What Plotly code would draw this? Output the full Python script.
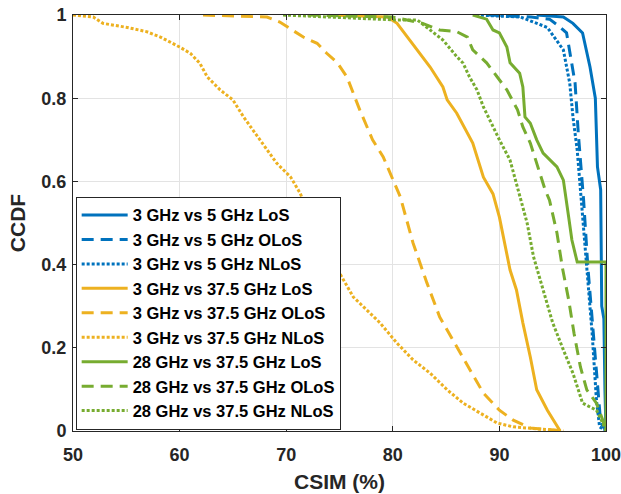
import plotly.graph_objects as go

BLUE = "#0072BD"
ORANGE = "#EDB120"
GREEN = "#77AC30"

# 3 GHz vs 5 GHz
b_los_x = [93.5, 96.0, 96.9, 97.8, 98.5, 99.0, 99.2, 99.4, 99.5, 99.6, 99.8, 99.9, 100.0]
b_los_y = [1.0, 0.995, 0.98, 0.957, 0.875, 0.8, 0.635, 0.605, 0.58, 0.30, 0.27, 0.10, 0.0]
b_olos_x = [89.0, 93.0, 94.7, 95.5, 96.3, 97.1, 97.4, 97.9, 98.3, 98.8, 99.2, 99.5, 100.0]
b_olos_y = [1.0, 0.995, 0.99, 0.975, 0.957, 0.836, 0.716, 0.555, 0.394, 0.235, 0.115, 0.02, 0.0]
b_nlos_x = [87.8, 92.0, 94.5, 96.0, 96.6, 96.9, 97.3, 97.7, 98.2, 98.7, 99.1, 99.4, 100.0]
b_nlos_y = [1.0, 0.995, 0.97, 0.916, 0.836, 0.755, 0.675, 0.555, 0.394, 0.235, 0.075, 0.01, 0.0]

# 3 GHz vs 37.5 GHz
o_los_x = [74.0, 79.5, 80.4, 81.9, 83.5, 84.7, 85.1, 86.0, 87.0, 87.5, 88.5, 89.4, 90.0,
           91.0, 91.6, 92.2, 92.9, 93.5, 94.5, 95.4, 95.7]
o_los_y = [1.0, 0.995, 0.98, 0.93, 0.875, 0.827, 0.796, 0.764, 0.716, 0.692, 0.61, 0.57, 0.514,
           0.387, 0.339, 0.26, 0.178, 0.099, 0.05, 0.01, 0.0]
o_olos_x = [62.2, 68.2, 69.4, 70.6, 71.6, 72.9, 73.8, 74.8, 75.7, 76.9, 78.1, 79.1, 80.4, 80.7,
            81.9, 83.2, 84.4, 86.0, 87.2, 88.5, 90.0, 91.3, 92.9, 96.3]
o_olos_y = [1.0, 0.995, 0.983, 0.964, 0.947, 0.932, 0.908, 0.885, 0.851, 0.772, 0.7, 0.659, 0.58, 0.563,
            0.452, 0.356, 0.274, 0.202, 0.147, 0.091, 0.05, 0.026, 0.007, 0.0]
o_nlos_x = [50.0, 51.9, 52.8, 55.1, 56.9, 58.2, 60.0, 61.0, 61.9, 62.6, 63.8, 65.0, 66.0, 67.5,
            69.1, 70.4, 71.3, 72.0, 73.5, 75.0, 76.3, 78.8, 80.4, 81.9, 83.5, 85.1, 86.6, 88.2,
            89.8, 91.3, 92.9, 96.0]
o_nlos_y = [1.0, 0.995, 0.98, 0.97, 0.96, 0.947, 0.923, 0.908, 0.884, 0.851, 0.82, 0.796, 0.755, 0.7,
            0.644, 0.611, 0.572, 0.53, 0.45, 0.38, 0.322, 0.26, 0.211, 0.171, 0.139, 0.099, 0.067, 0.043,
            0.019, 0.01, 0.007, 0.0]

# 28 GHz vs 37.5 GHz
g_los_x = [87.5, 88.8, 89.4, 90.0, 90.7, 91.0, 91.9, 92.2, 92.4, 92.9, 93.5, 94.1, 95.4, 96.0,
           96.5, 96.8, 97.3, 100.0, 100.0]
g_los_y = [1.0, 0.99, 0.964, 0.957, 0.923, 0.885, 0.86, 0.827, 0.755, 0.74, 0.7, 0.668, 0.635, 0.603,
           0.514, 0.459, 0.406, 0.406, 0.0]
g_olos_x = [72.0, 80.0, 82.8, 84.4, 86.0, 87.0, 87.5, 88.8, 89.8, 90.7, 91.7, 92.2, 92.9, 93.5,
            94.3, 94.7, 95.4, 95.9, 96.5, 97.0, 97.6, 98.2, 99.1, 99.7, 100.0]
g_olos_y = [1.0, 0.995, 0.98, 0.964, 0.96, 0.947, 0.916, 0.885, 0.851, 0.82, 0.772, 0.731, 0.692, 0.644,
            0.579, 0.555, 0.476, 0.394, 0.315, 0.235, 0.154, 0.099, 0.067, 0.026, 0.0]
g_nlos_x = [69.7, 79.1, 80.4, 82.3, 83.5, 84.7, 86.0, 86.6, 87.2, 87.9, 88.5, 89.4, 90.0, 91.0,
            91.6, 92.6, 93.2, 94.1, 95.0, 96.0, 96.9, 97.8, 99.1, 99.7, 100.0]
g_nlos_y = [1.0, 0.99, 0.988, 0.988, 0.964, 0.94, 0.9, 0.884, 0.851, 0.82, 0.779, 0.731, 0.7, 0.651,
            0.596, 0.5, 0.419, 0.339, 0.26, 0.195, 0.139, 0.067, 0.05, 0.019, 0.0]

DASH = "12px,7px"
DOT = "3px,2px"
series = [
    ("3 GHz vs 5 GHz LoS", b_los_x, b_los_y, BLUE, "solid"),
    ("3 GHz vs 5 GHz OLoS", b_olos_x, b_olos_y, BLUE, DASH),
    ("3 GHz vs 5 GHz NLoS", b_nlos_x, b_nlos_y, BLUE, DOT),
    ("3 GHz vs 37.5 GHz LoS", o_los_x, o_los_y, ORANGE, "solid"),
    ("3 GHz vs 37.5 GHz OLoS", o_olos_x, o_olos_y, ORANGE, DASH),
    ("3 GHz vs 37.5 GHz NLoS", o_nlos_x, o_nlos_y, ORANGE, DOT),
    ("28 GHz vs 37.5 GHz LoS", g_los_x, g_los_y, GREEN, "solid"),
    ("28 GHz vs 37.5 GHz OLoS", g_olos_x, g_olos_y, GREEN, DASH),
    ("28 GHz vs 37.5 GHz NLoS", g_nlos_x, g_nlos_y, GREEN, DOT),
]

fig = go.Figure()
for name, xs, ys, col, dash in series:
    fig.add_trace(go.Scatter(x=xs, y=ys, mode="lines", name=name,
                             line=dict(color=col, width=3, dash=dash)))

FONT = "Liberation Sans, Arial, sans-serif"
axcol = "#262626"
fig.update_layout(
    width=621, height=494,
    margin=dict(l=73, r=15, t=15, b=63, autoexpand=False),
    plot_bgcolor="white", paper_bgcolor="white",
    font=dict(family=FONT, color=axcol, size=18),
    showlegend=True,
    legend=dict(x=0.005, y=0.003, xanchor="left", yanchor="bottom",
                bgcolor="white", bordercolor=axcol, borderwidth=1,
                font=dict(family=FONT, size=16.5, color="black", weight="bold"),
                tracegroupgap=0, itemwidth=46),
)
fig.update_xaxes(range=[50, 100], tickvals=[50, 60, 70, 80, 90, 100],
                 ticks="inside", ticklen=5, tickcolor=axcol, showline=True, linecolor=axcol,
                 mirror="ticks", showgrid=True, gridcolor="#e3e3e3", zeroline=False,
                 automargin=False, ticklabelstandoff=7, ticklabeloverflow="allow",
                 tickfont=dict(size=18, weight="bold"),
                 title=dict(text="CSIM (%)", font=dict(size=21, weight="bold"), standoff=10))
fig.update_yaxes(range=[0, 1], tickvals=[0, 0.2, 0.4, 0.6, 0.8, 1],
                 ticktext=["0", "0.2", "0.4", "0.6", "0.8", "1"],
                 ticks="inside", ticklen=5, tickcolor=axcol, showline=True, linecolor=axcol,
                 mirror="ticks", showgrid=True, gridcolor="#e3e3e3", zeroline=False,
                 automargin=False, ticklabelstandoff=2, ticklabeloverflow="allow",
                 tickfont=dict(size=18, weight="bold"),
                 title=dict(text="CCDF", font=dict(size=21, weight="bold"), standoff=10))

fig.write_html("out.html", config={"displayModeBar": False},
               post_script="document.body.style.margin='0';")
